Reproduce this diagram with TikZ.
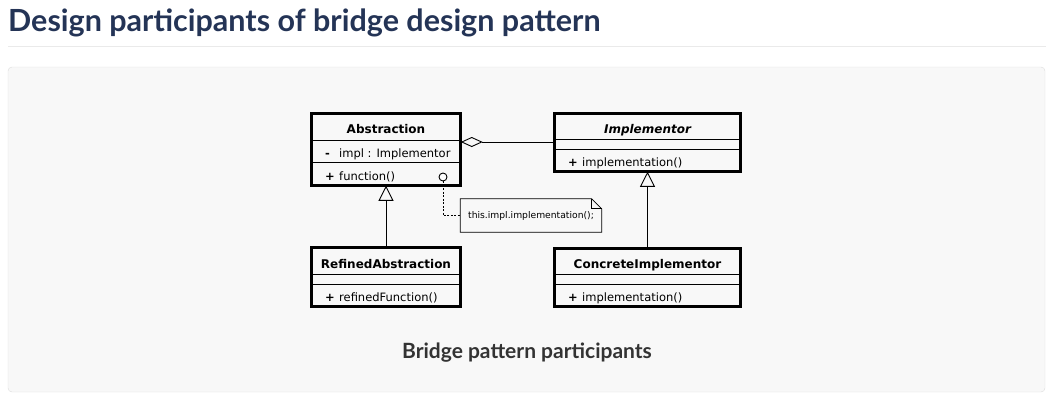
\documentclass[tikz,border=0pt]{standalone}
\usepackage{fontspec}
\setmainfont{DejaVu Sans}
\newfontfamily\headfont{Lato}
\usetikzlibrary{arrows.meta,positioning,calc}
\definecolor{titleblue}{RGB}{36,52,86}
\definecolor{panelbg}{RGB}{248,248,248}
\definecolor{panelline}{RGB}{220,220,220}
\definecolor{captext}{RGB}{51,51,51}

\begin{document}
\begin{tikzpicture}[x=1pt,y=-1pt,>=Stealth,
  classbox/.style={draw,line width=2.6pt,inner sep=0pt,outer sep=0pt},
  classname/.style={font=\bfseries\fontsize{12}{14}\selectfont,inner sep=0pt,anchor=base},
  member/.style={font=\fontsize{11.5}{14}\selectfont,inner sep=0pt,anchor=base west},
  sep/.style={line width=1pt},
  gen/.style={-{Triangle[open,length=15pt,width=15pt]},line width=0.9pt},
  aggr/.style={-{Diamond[open,length=22pt,width=10pt]},line width=0.9pt}]
\useasboundingbox (0,0) rectangle (1056,418);
\node[anchor=base west,inner sep=0pt,font=\headfont\bfseries\fontsize{30.5}{34}\selectfont,text=titleblue] (title) at (8,31) {Design participants of bridge design pattern};
\draw[panelline!60,line width=1pt] (8,46)--(1046,46);
\draw[panelline,fill=panelbg,rounded corners=4pt] (8,67) rectangle (1045,392);

\node[classbox,minimum width=149.5pt,minimum height=72.5pt] (abs) at (386,149.5) {};
\node[classname] (absname) at (386,133) {Abstraction};
\draw[sep] (abs.west |- 0,140)--(abs.east |- 0,140);
\draw[sep] (abs.west |- 0,162)--(abs.east |- 0,162);
\node[member] (absattr) at (325,157) {\makebox[14pt][l]{\bfseries -}impl : Implementor};
\node[member] (absop) at (325,180) {\makebox[14pt][l]{\bfseries +}function()};
\node[circle,draw,fill=white,minimum size=8pt,inner sep=0pt,line width=0.9pt] (dot) at (443,177) {};

\node[classbox,minimum width=186.5pt,minimum height=58.5pt] (impl) at (647.5,142.5) {};
\node[classname,font=\bfseries\itshape\fontsize{12}{14}\selectfont] (implname) at (647.5,133) {Implementor};
\draw[sep] (impl.west |- 0,139)--(impl.east |- 0,139);
\draw[sep] (impl.west |- 0,149)--(impl.east |- 0,149);
\node[member] (implop) at (568,166) {\makebox[14pt][l]{\bfseries +}implementation()};

\node[classbox,minimum width=149.5pt,minimum height=59.5pt] (ref) at (386,277) {};
\node[classname] (refname) at (386,268) {RefinedAbstraction};
\draw[sep] (ref.west |- 0,274)--(ref.east |- 0,274);
\draw[sep] (ref.west |- 0,284)--(ref.east |- 0,284);
\node[member] (refop) at (325,301) {\makebox[14pt][l]{\bfseries +}refinedFunction()};

\node[classbox,minimum width=186.5pt,minimum height=58.5pt] (con) at (647.5,277.5) {};
\node[classname] (conname) at (647.5,268) {ConcreteImplementor};
\draw[sep] (con.west |- 0,274)--(con.east |- 0,274);
\draw[sep] (con.west |- 0,284)--(con.east |- 0,284);
\node[member] (conop) at (568,301) {\makebox[14pt][l]{\bfseries +}implementation()};

\draw[aggr] (impl.west |- 0,142)--(abs.east |- 0,142);
\draw[gen] (ref.north)--(abs.south);
\draw[gen] (con.north)--(impl.south);

\node[minimum width=141pt,minimum height=33pt,inner sep=0pt,font=\fontsize{9.2}{11}\selectfont] (note) at (531,215.5) {this.impl.implementation();};
\draw[line width=0.8pt] (note.north west)--($(note.north east)+(-10,0)$)--($(note.north east)+(0,10)$)--(note.south east)--(note.south west)--cycle;
\draw[line width=0.8pt] ($(note.north east)+(-10,0)$) |- ($(note.north east)+(0,10)$);
\draw[dashed,dash pattern=on 2pt off 1.5pt,line width=0.9pt] (dot.south) |- (note.west);

\node[font=\headfont\bfseries\fontsize{21}{25}\selectfont,text=captext,anchor=base,inner sep=0pt] (caption) at (527,358) {Bridge pattern participants};
\end{tikzpicture}
\end{document}
